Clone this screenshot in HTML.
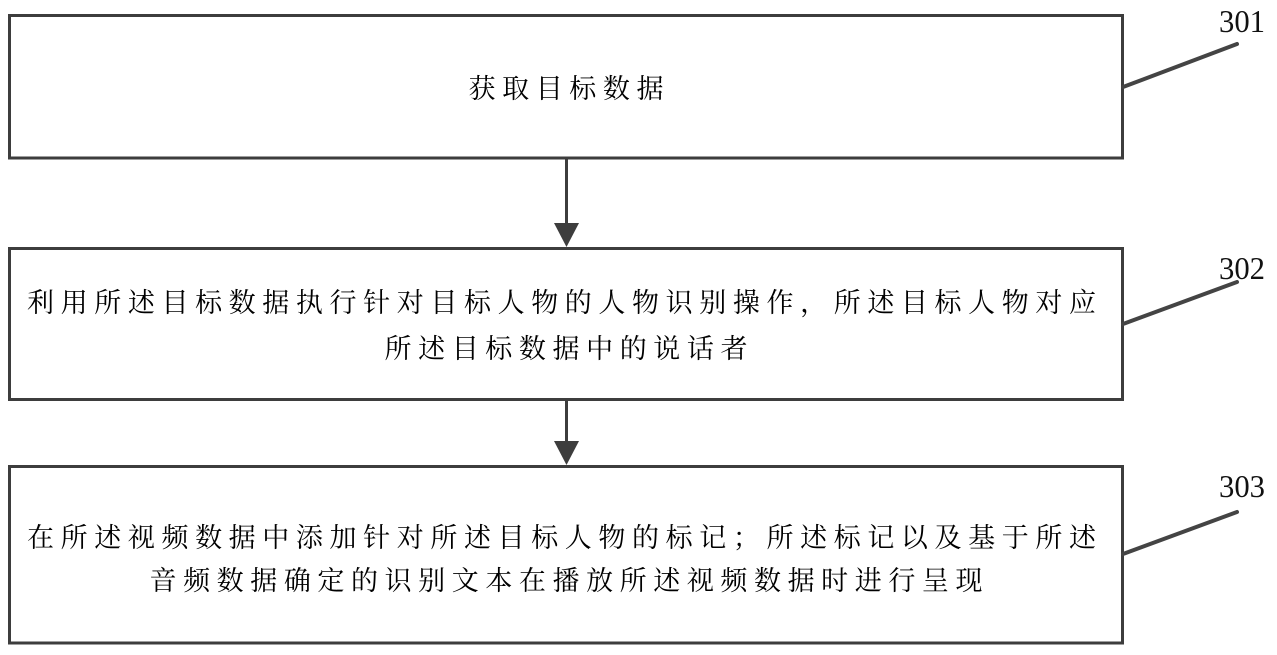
<!DOCTYPE html>
<html>
<head>
<meta charset="utf-8">
<style>
  html, body { margin:0; padding:0; background:#fff; }
  body { width:1277px; height:655px; overflow:hidden; }
  svg { display:block; }
  .cn { font-family: "Liberation Serif", "Noto Serif CJK SC", serif; font-size:27px; fill:#000; }
  .num { font-family: "Liberation Serif", serif; font-size:32px; fill:#111; }
</style>
</head>
<body>
<svg width="1277" height="655" viewBox="0 0 1277 655" xmlns="http://www.w3.org/2000/svg">
  <g fill="none" stroke="#3d3d3d" stroke-width="3">
    <rect x="9.5" y="15.5" width="1113" height="142.5"/>
    <rect x="9.5" y="248.5" width="1113" height="151"/>
    <rect x="9.5" y="466.5" width="1113" height="176.5"/>
  </g>
  <!-- arrows -->
  <g stroke="#3d3d3d" stroke-width="3">
    <line x1="566.5" y1="158" x2="566.5" y2="226"/>
    <line x1="566.5" y1="400" x2="566.5" y2="444"/>
  </g>
  <g fill="#3d3d3d">
    <polygon points="554,223 579,223 566.5,247"/>
    <polygon points="554,441 579,441 566.5,465"/>
  </g>
  <!-- leader lines -->
  <g stroke="#444" stroke-width="4" stroke-linecap="round">
    <line x1="1123" y1="87" x2="1237" y2="44"/>
    <line x1="1123" y1="324" x2="1237" y2="282"/>
    <line x1="1123" y1="554" x2="1237" y2="512"/>
  </g>
  <!-- numbers -->
  <text class="num" x="1219" y="32" textLength="46" lengthAdjust="spacingAndGlyphs">301</text>
  <text class="num" x="1219" y="279" textLength="46" lengthAdjust="spacingAndGlyphs">302</text>
  <text class="num" x="1219" y="497" textLength="46" lengthAdjust="spacingAndGlyphs">303</text>
  <!-- box texts -->
  <text class="cn" x="468.5" y="98" textLength="195" lengthAdjust="spacing">获取目标数据</text>
  <text class="cn" x="27" y="312" textLength="1069" lengthAdjust="spacing">利用所述目标数据执行针对目标人物的人物识别操作，所述目标人物对应</text>
  <text class="cn" x="384.5" y="358" textLength="363" lengthAdjust="spacing">所述目标数据中的说话者</text>
  <text class="cn" x="27" y="547" textLength="1069" lengthAdjust="spacing">在所述视频数据中添加针对所述目标人物的标记；所述标记以及基于所述</text>
  <text class="cn" x="149.5" y="590" textLength="833" lengthAdjust="spacing">音频数据确定的识别文本在播放所述视频数据时进行呈现</text>
</svg>
</body>
</html>
